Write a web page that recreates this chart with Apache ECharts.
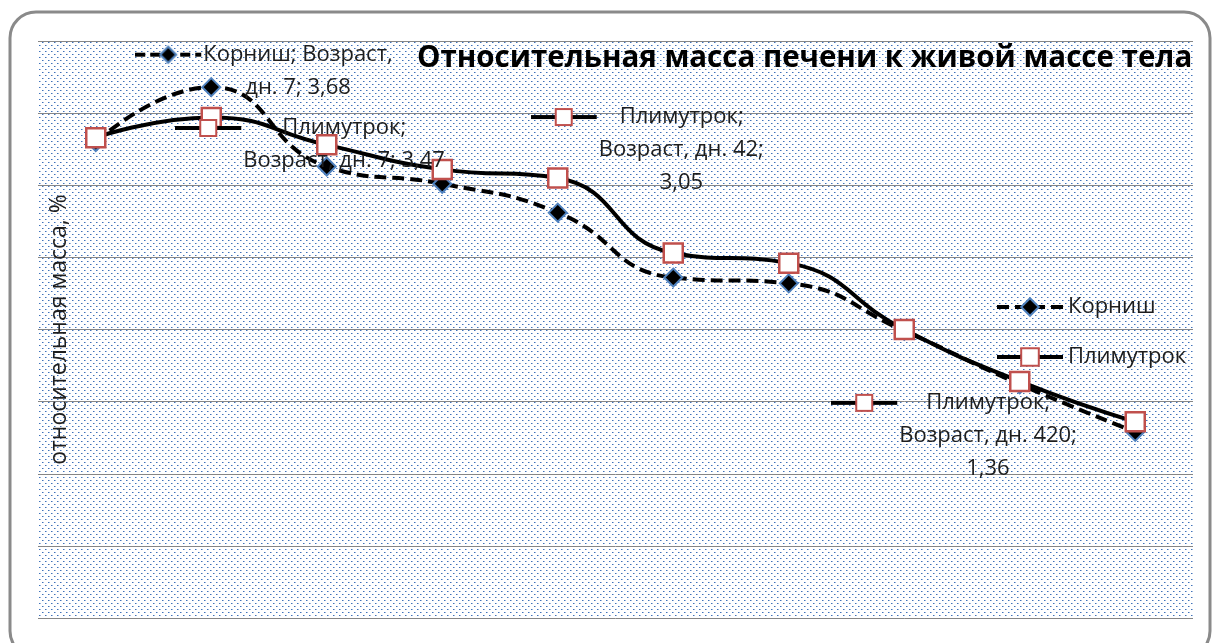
<!DOCTYPE html>
<html><head><meta charset="utf-8">
<script src="https://cdn.jsdelivr.net/npm/echarts@6/dist/echarts.min.js"></script>
<style>html,body{margin:0;padding:0;background:#fff}#c{width:1212px;height:643px}</style>
</head><body><div id="c"></div>
<script>
// ---- data ----
const categories = ['1', '7', '14', '28', '42', '60', '120', '180', '300', '420'];
const kornish   = [3.30, 3.68, 3.13, 3.01, 2.81, 2.36, 2.32, 1.99, 1.62, 1.29];
const plimutrok = [3.33, 3.47, 3.28, 3.11, 3.05, 2.53, 2.46, 2.00, 1.64, 1.36];
const seriesNames = ['Корниш', 'Плимутрок'];
const yMin = 0, yMax = 4, yInterval = 0.5;
const titleText = 'Относительная масса печени к живой массе тела';
const yAxisName = 'относительная масса, %';
const xAxisName = 'Возраст, дн.';

const FONT = '"Open Sans", "Noto Sans", sans-serif';
const FS = 22;
const TXT = '#1e1e1e';

// ---- pattern fill (Excel dotted) ----
function makePattern() {
  const c = document.createElement('canvas');
  c.width = 6; c.height = 6;
  const g = c.getContext('2d');
  g.fillStyle = '#ffffff'; g.fillRect(0, 0, 6, 6);
  g.fillStyle = '#3f72ba';
  [[0,0],[3,3]].forEach(p => g.fillRect(p[0], p[1], 1, 1));
  g.fillStyle = 'rgba(63,114,186,0.5)';
  [[1,0],[4,3]].forEach(p => g.fillRect(p[0], p[1], 1, 1));
  return c;
}

// ---- legend-key images for labels ----
function keyCanvas(type) {
  const c = document.createElement('canvas');
  c.width = 68; c.height = 22;
  const g = c.getContext('2d');
  g.strokeStyle = '#000'; g.lineWidth = 4;
  g.beginPath();
  if (type === 0) g.setLineDash([10, 5]);
  g.moveTo(0, 11); g.lineTo(66, 11); g.stroke();
  g.setLineDash([]);
  if (type === 0) {
    g.beginPath();
    g.moveTo(33, 3); g.lineTo(41, 11); g.lineTo(33, 19); g.lineTo(25, 11); g.closePath();
    g.fillStyle = '#000'; g.fill();
    g.strokeStyle = '#4f81bd'; g.lineWidth = 2; g.stroke();
  } else {
    g.fillStyle = '#fff'; g.fillRect(25, 3, 16, 16);
    g.strokeStyle = '#c0504d'; g.lineWidth = 2; g.strokeRect(25, 3, 16, 16);
  }
  return c;
}
const keys = [keyCanvas(0), keyCanvas(1)];

const mctx = document.createElement('canvas').getContext('2d');
mctx.font = FS + 'px ' + FONT;
function tw(s) { return mctx.measureText(s).width; }
function fmt(v) { return v.toFixed(2).replace('.', ','); }

// build a label: key to the left of a centred text block
function buildLabel(sIdx, lines, offset) {
  const widths = lines.map(tw);
  const maxW = Math.max(...widths);
  const rich = {
    t: { fontSize: FS, fontFamily: FONT, color: TXT, lineHeight: 33 },
    k: { width: 68, height: 22, lineHeight: 33, backgroundColor: { image: keys[sIdx] } },
    s: { width: 68, lineHeight: 33, fontSize: FS }
  };
  const parts = lines.map((ln, i) => {
    const pad = Math.round((maxW - widths[i]) / 2);
    const pk = 'p' + i;
    rich[pk] = { width: Math.max(pad, 0.01), lineHeight: 33, fontSize: FS };
    return (i === 0 ? '{k| }' : '{s| }') + (pad > 0 ? '{' + pk + '| }' : '') + '{t|' + ln + '}';
  });
  return {
    show: true, position: 'inside', align: 'left', verticalAlign: 'middle',
    offset: offset, formatter: parts.join('\n'), rich: rich
  };
}

function dataWithLabels(values, sIdx, labelDefs) {
  return values.map((v, i) => {
    const d = labelDefs.find(l => l.idx === i);
    if (!d) return { value: v };
    const name = seriesNames[sIdx], cat = categories[i], val = fmt(v);
    return { value: v, label: buildLabel(sIdx, d.lines(name, cat, val), d.offset) };
  });
}

const kornishLabels = [
  { idx: 1, offset: [-76, -16], lines: (n, c, v) => [n + '; ' + xAxisName.split(' ')[0], xAxisName.split(' ')[1] + ' ' + c + '; ' + v] }
];
const plimLabels = [
  { idx: 1, offset: [-36, 27], lines: (n, c, v) => [n + ';', xAxisName + ' ' + c + '; ' + v] },
  { idx: 4, offset: [-27, -28], lines: (n, c, v) => [n + ';', xAxisName + ' ' + c + ';', v] },
  { idx: 9, offset: [-304, 14], lines: (n, c, v) => [n + ';', xAxisName + ' ' + c + ';', v] }
];

const chart = echarts.init(document.getElementById('c'), null, { renderer: 'canvas' });
chart.setOption({
  animation: false,
  backgroundColor: '#ffffff',
  title: {
    text: titleText, left: 412, top: 39,
    textStyle: { fontFamily: FONT, fontSize: 29.5, fontWeight: 'bold', color: '#000' }
  },
  legend: {
    orient: 'vertical', left: 990, top: 291, itemWidth: 66, itemHeight: 22, itemGap: 28,
    lineStyle: { width: 4 },
    textStyle: { fontFamily: FONT, fontSize: FS, color: TXT, padding: [0, 0, 0, 0] },
    data: seriesNames
  },
  grid: {
    left: 38, right: 19, top: 41, bottom: 25, show: true, borderWidth: 0,
    backgroundColor: { image: makePattern(), repeat: 'repeat' }
  },
  xAxis: {
    type: 'category', data: categories, boundaryGap: true,
    axisLine: { show: false }, axisTick: { show: false }, axisLabel: { show: false }
  },
  yAxis: {
    type: 'value', min: yMin, max: yMax, interval: yInterval,
    axisLine: { show: false }, axisTick: { show: false }, axisLabel: { show: false },
    splitLine: { show: true, lineStyle: { color: '#868686', width: 1 } },
    name: yAxisName, nameLocation: 'middle', nameGap: -33,
    nameTextStyle: { fontFamily: FONT, fontSize: 23, color: TXT }
  },
  series: [
    {
      name: seriesNames[0], type: 'line', smooth: 0.5, z: 2,
      symbol: 'diamond', symbolSize: 18,
      lineStyle: { color: '#000', width: 4, type: [12, 6] },
      itemStyle: { color: '#000', borderColor: '#4f81bd', borderWidth: 2 },
      data: dataWithLabels(kornish, 0, kornishLabels)
    },
    {
      name: seriesNames[1], type: 'line', smooth: 0.5, z: 3,
      symbol: 'rect', symbolSize: 19,
      lineStyle: { color: '#000', width: 4 },
      itemStyle: { color: '#fff', borderColor: '#c0504d', borderWidth: 2.5 },
      data: dataWithLabels(plimutrok, 1, plimLabels)
    }
  ],
  graphic: [{
    type: 'rect', silent: true, z: 100,
    shape: { x: 10, y: 12, width: 1200, height: 645, r: 26 },
    style: { fill: 'none', stroke: '#8a8a8a', lineWidth: 3 }
  }]
});
</script></body></html>
